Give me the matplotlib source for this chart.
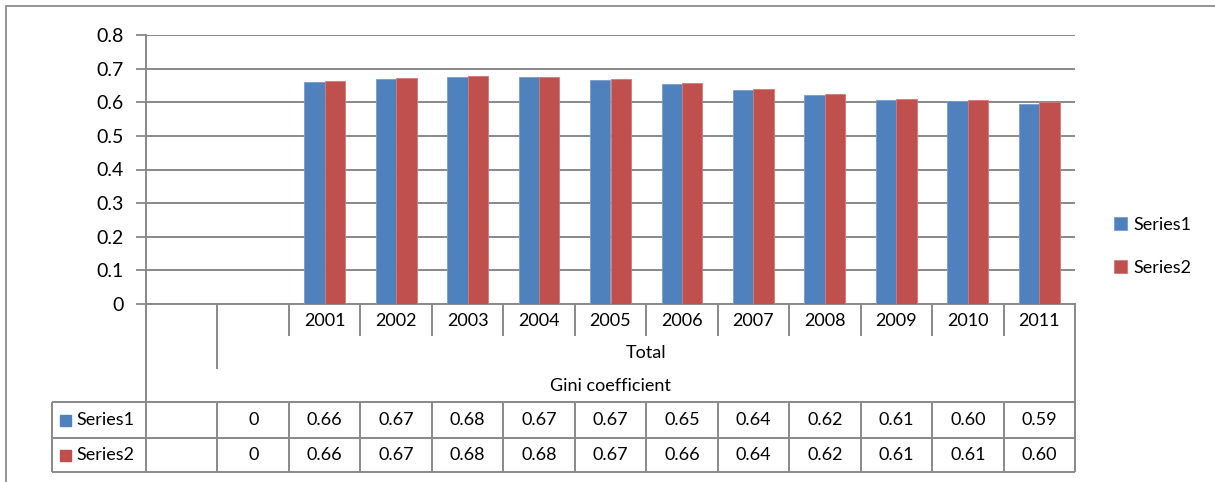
import numpy as np
import matplotlib.pyplot as plt
from matplotlib.patches import Rectangle

plt.rcParams['font.family'] = ['Lato', 'DejaVu Sans']

# data
categories = ['', '', '2001', '2002', '2003', '2004', '2005', '2006',
              '2007', '2008', '2009', '2010', '2011']
series1 = [np.nan, 0, 0.661, 0.670, 0.676, 0.674, 0.666, 0.653,
           0.637, 0.622, 0.608, 0.603, 0.594]
series2 = [np.nan, 0, 0.664, 0.672, 0.678, 0.676, 0.668, 0.656,
           0.638, 0.624, 0.611, 0.606, 0.600]
series_names = ['Series1', 'Series2']
group_mid = 'Total'
group_top = 'Gini coefficient'
yticks = [0, 0.1, 0.2, 0.3, 0.4, 0.5, 0.6, 0.7, 0.8]

blue = '#4F81BD'
red = '#C0504D'
gray = '#898989'
fs = 13

W, H = 1215, 482
fig = plt.figure(figsize=(W / 100, H / 100), dpi=100)

# outer chart frame
fig.add_artist(Rectangle((6 / W, -0.1), 1.2, 1 - 5.5 / H + 0.1, transform=fig.transFigure,
                         fill=False, edgecolor='#8c8c8c', lw=1.3))

# plot area
ax = fig.add_axes([146 / W, 1 - 304 / H, (1075 - 146) / W, (304 - 35) / H])
x = np.arange(len(categories))
bw = 1 / 3.5
b1 = ax.bar(x - bw / 2, series1, bw, color=blue, edgecolor='#7a9ccb', lw=0.6, zorder=3)
b2 = ax.bar(x + bw / 2, series2, bw, color=red, edgecolor='#d07a78', lw=0.6, zorder=3)
ax.set_xlim(-0.5, len(categories) - 0.5)
ax.set_ylim(0, 0.8)
ax.set_yticks(yticks)
ax.set_yticklabels([('%g' % t) for t in yticks], fontsize=14)
ax.set_xticks([])
ax.yaxis.grid(True, color=gray, lw=1.4, zorder=0)
ax.tick_params(axis='y', length=7, width=1.3, color=gray, pad=9)
for s in ['top', 'right']:
    ax.spines[s].set_visible(False)
for s in ['left', 'bottom']:
    ax.spines[s].set_color(gray)
    ax.spines[s].set_linewidth(1.4)

ax.legend([b1, b2], series_names, loc='center left', bbox_to_anchor=(1.025, 0.215),
          frameon=False, fontsize=fs, handlelength=0.7, handleheight=0.7,
          handletextpad=0.35, labelspacing=1.5)

# data table below the axis
px_per_cat = (1075 - 146) / len(categories)
x0 = -0.5 - (146 - 52) / px_per_cat
x1 = len(categories) - 0.5
tax = fig.add_axes([52 / W, 1 - 472 / H, (1075 - 52) / W, (472 - 304) / H])
tax.set_xlim(x0, x1)
tax.set_ylim(168, 0)
tax.axis('off')
lk = dict(color=gray, lw=1.4, clip_on=False)

tax.vlines([-0.5, x1], 0, 168, **lk)
tax.vlines(x[2:] - 0.5, 0, 32, **lk)
tax.vlines([0.5], 0, 65, **lk)
tax.hlines([98, 134, 168], x0, x1, **lk)
tax.vlines([x0] + list(x[1:] - 0.5), 98, 168, **lk)

for i, c in enumerate(categories):
    tax.text(i, 17, c, ha='center', va='center', fontsize=fs)
tax.text((1 + len(categories) - 1) / 2, 49, group_mid, ha='center', va='center', fontsize=fs)
tax.text((len(categories) - 1) / 2, 82, group_top, ha='center', va='center', fontsize=fs)


def fmt(v):
    if np.isnan(v):
        return ''
    if v == 0:
        return '0'
    return '%.2f' % v


for row_y, vals, name, col in [(116, series1, series_names[0], blue),
                               (151, series2, series_names[1], red)]:
    for i, v in enumerate(vals):
        tax.text(i, row_y, fmt(v), ha='center', va='center', fontsize=fs)
    sq = 11.5 / px_per_cat
    tax.add_patch(Rectangle((x0 + 7.5 / px_per_cat, row_y - 5.5), sq, 11.5,
                            color=col, clip_on=False))
    tax.text(x0 + 24 / px_per_cat, row_y, name, ha='left', va='center', fontsize=fs)

fig.savefig('out.png', dpi=100)
